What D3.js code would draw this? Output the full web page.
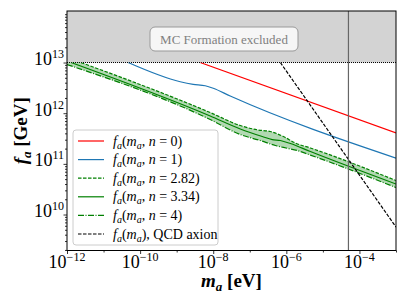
<!DOCTYPE html>
<html>
<head>
<meta charset="utf-8">
<script src="https://d3js.org/d3.v7.min.js"></script>
<style>
  body { margin: 0; background: #fff; }
  text { font-family: "Liberation Serif", "DejaVu Serif", serif; }
</style>
</head>
<body>
<div id="chart"></div>
<script>
var width = 407,
    height = 305;

// axis limits and ticks
var xDomain = [1e-12, 1e-3];
var yDomain = [1.95e9, 1.04e14];
var xMajor = [1e-12, 1e-10, 1e-8, 1e-6, 1e-4];
var xMinor = [1e-11, 1e-9, 1e-7, 1e-5, 1e-3];
var yMajor = [1e10, 1e11, 1e12, 1e13];
var fMC = 1e13;          // MC formation bound
var mVertical = 5e-5;    // vertical marker

// n = 0
var m_n0 = [4.4e-9, 1e-3];
var f_n0 = [1e13, 4.07e11];
// n = 1
var m_n1 = [4.69e-11, 1.25e-9, 2.83e-9, 6.04e-9, 1.0e-8, 2.92e-8, 1e-3];
var f_n1 = [1e13, 4.18e12, 3.72e12, 3.48e12, 3.10e12, 2.18e12, 1.30e11];
// n = 2.82 (upper edge of band)
var m_n282 = [1e-12, 8.28e-9, 5.50e-8, 1.71e-7, 3.65e-7, 8.28e-7, 1.77e-6, 4.55e-6, 1e-3];
var f_n282 = [1.26e13, 1.03e12, 5.71e11, 4.66e11, 4.35e11, 3.47e11, 2.58e11, 2.06e11, 4.69e10];
// n = 3.34
var m_n334 = [1.29e-12, 8.28e-9, 5.50e-8, 2.20e-7, 4.13e-7, 6.85e-7, 1.29e-6, 4.55e-6, 1e-3];
var f_n334 = [1e13, 8.79e11, 4.88e11, 3.47e11, 3.02e11, 2.89e11, 2.52e11, 1.75e11, 4.00e10];
// n = 4 (lower edge of band)
var m_n4 = [1e-12, 8.28e-9, 5.50e-8, 1.94e-7, 5.00e-7, 1.06e-6, 2.00e-6, 4.55e-6, 1e-3];
var f_n4 = [9.14e12, 7.50e11, 3.79e11, 2.89e11, 2.30e11, 2.03e11, 1.83e11, 1.49e11, 3.41e10];
// QCD axion
var m_qcd = [6.85e-7, 1e-3];
var f_qcd = [1e13, 5.66e9];

var legendLabels = ["n = 0", "n = 1", "n = 2.82", "n = 3.34", "n = 4", "QCD"];

function pts(ms, fs) { return ms.map(function (m, i) { return [m, fs[i]]; }); }

var svg = d3.select("#chart").append("svg")
    .attr("width", width)
    .attr("height", height);

var pLeft = 67, pRight = 396, pTop = 11, pBottom = 250.5;

var x = d3.scaleLog().domain(xDomain).range([pLeft, pRight]);
var y = d3.scaleLog().domain(yDomain).range([pBottom, pTop]);

var line = d3.line()
    .x(function (d) { return x(d[0]); })
    .y(function (d) { return y(d[1]); })
    .curve(d3.curveMonotoneX);

svg.append("clipPath").attr("id", "below")
  .append("rect")
    .attr("x", pLeft).attr("y", y(fMC))
    .attr("width", pRight - pLeft).attr("height", pBottom - y(fMC));

// excluded region
svg.append("rect")
    .attr("x", pLeft).attr("y", pTop)
    .attr("width", pRight - pLeft).attr("height", y(fMC) - pTop)
    .attr("fill", "#d3d3d3");

svg.append("line")
    .attr("x1", pLeft).attr("x2", pRight)
    .attr("y1", y(fMC)).attr("y2", y(fMC))
    .attr("stroke", "#000").attr("stroke-width", 1)
    .attr("stroke-dasharray", "1,1");

var ann = svg.append("g");
ann.append("rect")
    .attr("x", 150).attr("y", 27).attr("width", 148).attr("height", 24)
    .attr("rx", 5)
    .attr("fill", "#fff").attr("fill-opacity", 0.8)
    .attr("stroke", "#999").attr("stroke-width", 1);
ann.append("text")
    .attr("x", 224).attr("y", 43.5)
    .attr("text-anchor", "middle")
    .attr("font-size", 13)
    .attr("fill", "#808080")
    .text("MC Formation excluded");

var plot = svg.append("g").attr("clip-path", "url(#below)");

// green band
var up = pts(m_n282, f_n282), lo = pts(m_n4, f_n4).reverse();
plot.append("path")
    .attr("d", line(up) + line(lo).replace(/^M/, "L") + "Z")
    .attr("fill", "#008000").attr("fill-opacity", 0.3)
    .attr("stroke", "none");

var series = [
  { d: pts(m_n0, f_n0), c: "#ff0000", dash: null },
  { d: pts(m_n1, f_n1), c: "#1f77b4", dash: null },
  { d: pts(m_n282, f_n282), c: "#008000", dash: "3.5,1.5" },
  { d: pts(m_n334, f_n334), c: "#008000", dash: null },
  { d: pts(m_n4, f_n4), c: "#008000", dash: "6,1.5,1,1.5" },
  { d: pts(m_qcd, f_qcd), c: "#000000", dash: "3.5,1.5" }
];

plot.selectAll("path.s")
    .data(series)
    .enter().append("path")
    .attr("class", "s")
    .attr("d", function (s) { return line(s.d); })
    .attr("fill", "none")
    .attr("stroke", function (s) { return s.c; })
    .attr("stroke-width", 1.2)
    .attr("stroke-dasharray", function (s) { return s.dash; });

// vertical marker
svg.append("line")
    .attr("x1", x(mVertical)).attr("x2", x(mVertical))
    .attr("y1", pTop).attr("y2", pBottom)
    .attr("stroke", "#666").attr("stroke-width", 1.2);

// axes
svg.append("g")
    .attr("transform", "translate(0," + pBottom + ")")
    .call(d3.axisBottom(x).tickValues(xMajor).tickSize(3.5).tickFormat(""))
    .call(function (g) { g.select(".domain").remove(); });
svg.append("g")
    .attr("transform", "translate(0," + pBottom + ")")
    .call(d3.axisBottom(x).tickValues(xMinor).tickSize(2).tickFormat(""))
    .call(function (g) { g.select(".domain").remove(); });
svg.append("g")
    .attr("transform", "translate(" + pLeft + ",0)")
    .call(d3.axisLeft(y).tickValues(yMajor).tickSize(3.5).tickFormat(""))
    .call(function (g) { g.select(".domain").remove(); });

var yMinor = [];
[1e9, 1e10, 1e11, 1e12, 1e13].forEach(function (dec) {
  for (var k = 2; k <= 9; k++) {
    var v = k * dec;
    if (v >= yDomain[0] && v <= yDomain[1]) yMinor.push(v);
  }
});
svg.append("g")
    .attr("transform", "translate(" + pLeft + ",0)")
    .call(d3.axisLeft(y).tickValues(yMinor).tickSize(2).tickFormat(""))
    .call(function (g) { g.select(".domain").remove(); });

svg.selectAll(".tick line").attr("stroke", "#000").attr("stroke-width", 0.8);

// frame
svg.append("rect")
    .attr("x", pLeft).attr("y", pTop)
    .attr("width", pRight - pLeft).attr("height", pBottom - pTop)
    .attr("fill", "none").attr("stroke", "#000").attr("stroke-width", 1);

function expo(v) { return Math.round(Math.log10(v)); }
function fmtExp(e) { return e < 0 ? "\u2212" + (-e) : "" + e; }

var xl = svg.selectAll("text.xl")
    .data(xMajor)
    .enter().append("text")
    .attr("class", "xl")
    .attr("x", function (d) { return x(d); })
    .attr("y", 268)
    .attr("text-anchor", "middle")
    .attr("font-size", 18);
xl.append("tspan").text("10");
xl.append("tspan").attr("dy", -7).attr("font-size", 12)
    .text(function (d) { return fmtExp(expo(d)); });

var yl = svg.selectAll("text.yl")
    .data(yMajor)
    .enter().append("text")
    .attr("class", "yl")
    .attr("x", 64)
    .attr("y", function (d) { return y(d) + 2.5; })
    .attr("text-anchor", "end")
    .attr("font-size", 18);
yl.append("tspan").text("10");
yl.append("tspan").attr("dy", -7).attr("font-size", 12)
    .text(function (d) { return fmtExp(expo(d)); });

// axis titles
var xt = svg.append("text")
    .attr("x", (pLeft + pRight) / 2).attr("y", 287)
    .attr("text-anchor", "middle")
    .attr("font-size", 19).attr("font-weight", "bold");
xt.append("tspan").attr("font-style", "italic").text("m");
xt.append("tspan").attr("font-style", "italic").attr("font-size", 13).attr("dy", 4).text("a");
xt.append("tspan").attr("dy", -4).text(" [eV]");

var yt = svg.append("text")
    .attr("transform", "translate(27," + ((pTop + pBottom) / 2) + ") rotate(-90)")
    .attr("text-anchor", "middle")
    .attr("font-size", 19).attr("font-weight", "bold");
yt.append("tspan").attr("font-style", "italic").text("f");
yt.append("tspan").attr("font-style", "italic").attr("font-size", 13).attr("dy", 4).text("a");
yt.append("tspan").attr("dy", -4).text(" [GeV]");

// legend
var lg = svg.append("g");
lg.append("rect")
    .attr("x", 73).attr("y", 130).attr("width", 145).attr("height", 115)
    .attr("rx", 3)
    .attr("fill", "#fff").attr("fill-opacity", 0.8)
    .attr("stroke", "#ccc").attr("stroke-width", 1);

var items = lg.selectAll("g.item")
    .data(series)
    .enter().append("g")
    .attr("class", "item")
    .attr("transform", function (s, i) { return "translate(0," + (141 + i * 18.6) + ")"; });

items.append("line")
    .attr("x1", 78).attr("x2", 104)
    .attr("stroke", function (s) { return s.c; })
    .attr("stroke-width", 1.2)
    .attr("stroke-dasharray", function (s) { return s.dash; });

items.each(function (s, i) {
  var t = d3.select(this).append("text")
      .attr("x", 113).attr("y", 4.5)
      .attr("font-size", 14);
  t.append("tspan").attr("font-style", "italic").text("f");
  t.append("tspan").attr("font-style", "italic").attr("font-size", 10).attr("dy", 3).text("a");
  t.append("tspan").attr("dy", -3).text("(");
  t.append("tspan").attr("font-style", "italic").text("m");
  t.append("tspan").attr("font-style", "italic").attr("font-size", 10).attr("dy", 3).text("a");
  if (legendLabels[i] === "QCD") {
    t.append("tspan").attr("dy", -3).text("), QCD axion");
  } else {
    var parts = legendLabels[i].split(" ");
    t.append("tspan").attr("dy", -3).text(", ");
    t.append("tspan").attr("font-style", "italic").text(parts[0]);
    t.append("tspan").text(" = " + parts[2] + ")");
  }
});
</script>
</body>
</html>
